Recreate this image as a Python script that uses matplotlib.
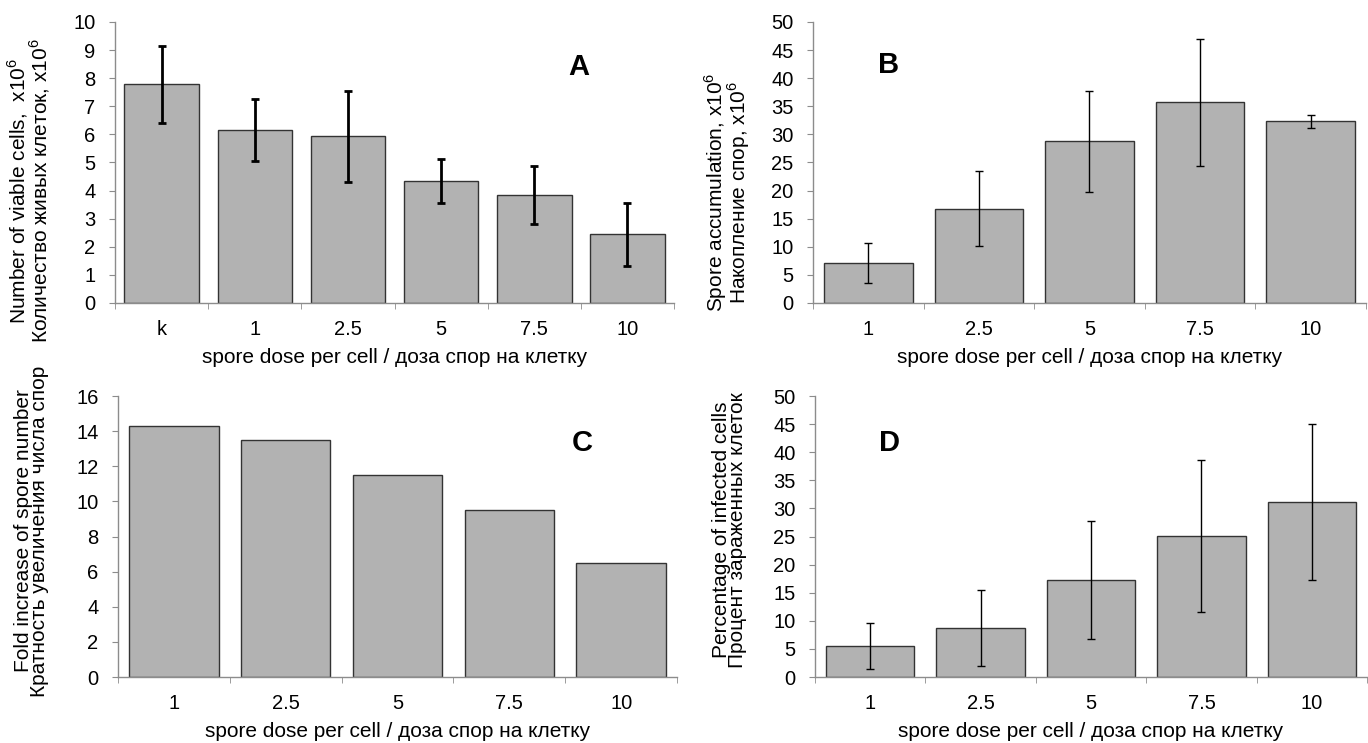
import numpy as np
import matplotlib.pyplot as plt

plt.rcParams['font.family'] = ['Liberation Sans', 'DejaVu Sans']
plt.rcParams['mathtext.fontset'] = 'custom'
plt.rcParams['mathtext.rm'] = 'Liberation Sans'

# данные
doses_a = ['k', '1', '2.5', '5', '7.5', '10']
viable = [7.78, 6.15, 5.93, 4.34, 3.83, 2.45]
viable_err = [1.36, 1.10, 1.63, 0.77, 1.03, 1.12]

doses = ['1', '2.5', '5', '7.5', '10']
spores = [7.1, 16.8, 28.8, 35.7, 32.3]
spores_err = [3.5, 6.65, 9.0, 11.35, 1.1]
fold = [14.3, 13.47, 11.52, 9.5, 6.48]
infected = [5.5, 8.7, 17.3, 25.1, 31.1]
infected_err = [4.15, 6.8, 10.5, 13.45, 13.9]

xlabel = 'spore dose per cell / доза спор на клетку'
bar_color = '#b2b2b2'
edge_color = '#333333'
axis_color = '#8c8c8c'
fs = 15
tfs = 14.5


def draw_panel(ax, cats, vals, err, ymax, ystep, ylabel, letter, letter_pos,
               ylabel_y, err_lw=1.0):
    x = np.arange(len(cats))
    ax.bar(x, vals, width=0.8, color=bar_color, edgecolor=edge_color,
           linewidth=1.0, zorder=2)
    if err is not None:
        ax.errorbar(x, vals, yerr=err, fmt='none', ecolor='black',
                    elinewidth=err_lw, capsize=3, capthick=err_lw, zorder=3)

    ax.set_xlim(-0.5, len(cats) - 0.5)
    ax.set_ylim(0, ymax)
    ax.set_yticks(np.arange(0, ymax + 0.1, ystep))
    ax.set_xticks(x)
    ax.set_xticklabels(cats)
    ax.set_xticks(np.arange(-0.5, len(cats)), minor=True)

    for s in ['top', 'right']:
        ax.spines[s].set_visible(False)
    for s in ['left', 'bottom']:
        ax.spines[s].set_color(axis_color)
        ax.spines[s].set_linewidth(1.0)

    ax.tick_params(axis='x', which='major', length=0, pad=12, labelsize=tfs)
    ax.tick_params(axis='x', which='minor', length=4, color=axis_color,
                   direction='out')
    ax.tick_params(axis='y', length=4, color=axis_color, direction='out',
                   pad=10, labelsize=tfs)

    ax.set_xlabel(xlabel, fontsize=fs)
    ax.xaxis.set_label_coords(0.5, -0.16)
    ax.set_ylabel(ylabel, fontsize=fs, linespacing=0.85, va='center')
    ax.yaxis.set_label_coords(-0.155, ylabel_y)

    ax.text(letter_pos[0], letter_pos[1], letter, transform=ax.transAxes,
            fontsize=21, fontweight='bold', ha='center', va='center')


fig = plt.figure(figsize=(13.68, 7.43), dpi=100)
ax_a = fig.add_axes([0.0841, 0.5922, 0.4086, 0.3782])
ax_b = fig.add_axes([0.5943, 0.5922, 0.4042, 0.3782])
ax_c = fig.add_axes([0.0863, 0.0888, 0.4086, 0.3782])
ax_d = fig.add_axes([0.5958, 0.0888, 0.4035, 0.3782])

draw_panel(ax_a, doses_a, viable, viable_err, 10, 1,
           'Number of viable cells,  x10$^{\\mathregular{6}}$\n'
           'Количество живых клеток, x10$^{\\mathregular{6}}$',
           'A', (0.83, 0.84), 0.40, err_lw=2.0)
draw_panel(ax_b, doses, spores, spores_err, 50, 5,
           'Spore accumulation, x10$^{\\mathregular{6}}$\n'
           'Накопление спор, x10$^{\\mathregular{6}}$',
           'B', (0.137, 0.847), 0.395)
draw_panel(ax_c, doses, fold, None, 16, 2,
           'Fold increase of spore number\n'
           'Кратность увеличения числа спор',
           'C', (0.83, 0.833), 0.52)
draw_panel(ax_d, doses, infected, infected_err, 50, 5,
           'Percentage of infected cells\n'
           'Процент зараженных клеток',
           'D', (0.134, 0.833), 0.523)

fig.savefig('out.png', dpi=100)
